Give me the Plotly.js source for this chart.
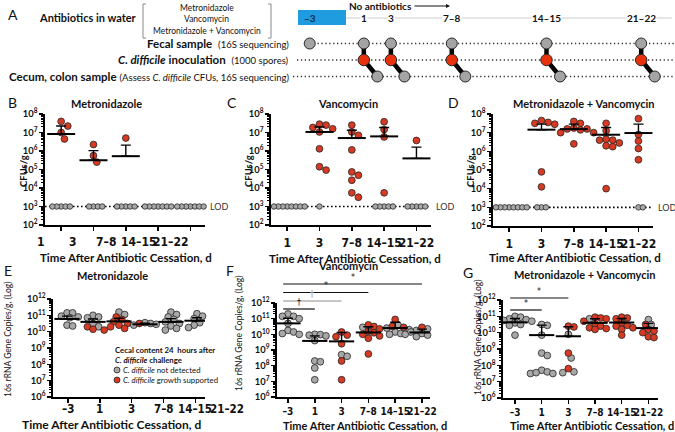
<!DOCTYPE html>
<html>
<head>
<meta charset="utf-8">
<script src="https://cdn.plot.ly/plotly-3.0.1.min.js"></script>
<style>
  body { margin: 0; background: white; }
  #chart { width: 675px; height: 432px; }
</style>
</head>
<body>
<div id="chart"></div>
<script>
// ---------- data (log10 values) ----------
const cfuDays = ['1', '3', '7–8', '14–15', '21–22'];
const rnaDays = ['–3', '1', '3', '7–8', '14–15', '21–22'];
const schedDayNum = [-3, 1, 3, 7.5, 14.5, 21.5];
const lodLog = 3;

// B - metronidazole, CFUs/g
const metroCfuRed = [[7.6, 7.35, 7.0, 6.65], [6.35, 5.75, 5.4], [6.7], [], []];
const metroCfuLod = [5, 4, 5, 7, 7];
const metroCfuMean = [6.92, 5.5, 5.72, null, null];
const metroCfuTop = [7.35, 6.02, 6.32, null, null];

// C - vancomycin, CFUs/g
const vancoCfuRed = [[], [7.45, 7.4, 7.27, 7.2, 7.03, 6.12, 5.15, 4.97],
  [7.4, 7.03, 6.85, 6.06, 4.87, 4.69, 4.42, 3.74, 3.5], [7.58, 7.16, 6.76, 3.74], [6.57]];
const vancoCfuLod = [8, 1, 0, 5, 5];
const vancoCfuMean = [null, 7.03, 6.7, 6.79, 5.6];
const vancoCfuTop = [null, 7.3, 7.12, 7.27, 6.21];

// D - metronidazole + vancomycin, CFUs/g
const comboCfuRed = [[], [7.65, 7.55, 7.5, 7.45, 4.9, 4.1],
  [7.6, 7.5, 7.25, 7.2, 7.2, 7.15, 7.0, 7.0, 6.4],
  [7.5, 7.1, 6.65, 6.6, 6.6, 6.45, 6.3, 6.25, 4.0], [7.75, 6.9, 6.55, 6.15, 5.55]];
const comboCfuLod = [8, 3, 0, 0, 2];
const comboCfuMean = [null, 7.16, 7.19, 6.89, 6.98];
const comboCfuTop = [null, 7.46, 7.46, 7.28, 7.46];

// E - metronidazole, 16S copies/g
const metroRnaGrey = [[11.15, 11.15, 10.95, 10.9, 10.85, 10.4, 10.35], [11.0, 10.9, 10.85, 10.5, 10.3],
  [11.2, 11.05], [10.55, 10.5, 10.45, 10.4], [11.2, 11.05, 10.9, 10.75, 10.6, 10.5, 10.35, 10.2, 10.1],
  [11.1, 10.95, 10.8, 10.55, 10.4, 10.3, 10.25]];
const metroRnaRed = [[], [10.3, 10.15, 10.1], [10.9, 10.75, 10.6, 10.5, 10.4, 10.3, 10.2], [10.5], [], []];
const metroRnaMean = [10.78, 10.6, 10.63, 10.45, 10.6, 10.67];
const metroRnaTop = [10.95, 10.78, 10.82, 10.52, 10.8, 10.85];

// F - vancomycin, 16S copies/g
const vancoRnaGrey = [[11.3, 11.15, 11.15, 11.0, 10.95, 10.7, 10.25, 10.15, 10.05, 10.0],
  [10.0, 9.98, 9.95, 9.9, 9.6, 8.3, 8.25, 7.85, 7.1], [8.7, 8.6], [10.45],
  [10.6, 10.4, 10.3, 10.15, 10.05, 10.0], [10.35, 10.25, 10.2, 10.15, 10.1, 10.05, 10.0, 9.95, 9.9, 9.85]];
const vancoRnaRed = [[], [], [10.15, 9.95, 9.85, 9.4, 8.3, 7.1],
  [10.6, 10.5, 10.35, 10.2, 10.1, 10.0, 9.9, 9.75, 8.75], [10.95, 10.5, 10.45], [10.45]];
const vancoRnaMean = [10.7, 9.58, 9.55, 10.12, 10.4, 10.12];
const vancoRnaTop = [11.03, 9.9, 10.12, 10.48, 10.77, 10.33];
const vancoSigTo = [1, 2, 3, 5];
const vancoSigMark = ['†', '†', '*', '*'];

// G - metronidazole + vancomycin, 16S copies/g
const comboRnaGrey = [[11.0, 10.95, 10.85, 10.8, 10.75, 10.7, 10.6, 10.5, 10.45, 9.85],
  [10.5, 10.45, 9.85, 8.75, 8.6, 7.7, 7.6, 7.5, 7.5, 7.55], [9.9, 8.45, 7.55, 7.6], [10.85], [], [10.8, 10.5]];
const comboRnaRed = [[], [], [10.4, 10.35, 8.75, 7.8],
  [10.95, 10.9, 10.85, 10.7, 10.55, 10.4, 10.3, 10.25, 10.2],
  [10.95, 10.9, 10.85, 10.6, 10.45, 10.4, 10.3, 10.2, 9.85], [10.5, 10.2, 10.1, 10.0, 9.9, 9.75, 9.7]];
const comboRnaMean = [10.63, 9.85, 9.78, 10.6, 10.62, 10.28];
const comboRnaTop = [10.87, 10.46, 10.36, 10.85, 10.87, 10.57];
const comboSigTo = [1, 2];
const comboSigMark = ['*', '*'];

// ---------- layout helpers ----------
const W = 675, H = 432;
const FONT = 'Lato, "Open Sans", sans-serif';
const NARROW = '"Liberation Sans Narrow", "DejaVu Sans Condensed", Lato, sans-serif';
const RED = '#d63a22', GREY = '#a8a8a8', EDGE = '#262626';
const fx = p => p / W;
const fy = p => 1 - p / H;

const panels = {
  B: {ax: '',  x: [45, 205],  y: [114, 225], xr: [-0.5, 4.45],  yr: [2, 8]},
  C: {ax: '2', x: [271, 431], y: [114, 225], xr: [-0.5, 4.45],  yr: [2, 8]},
  D: {ax: '3', x: [493, 653], y: [114, 226], xr: [-0.5, 4.45],  yr: [2, 8]},
  E: {ax: '4', x: [53, 205],  y: [299, 397], xr: [-0.54, 5.31], yr: [6, 12]},
  F: {ax: '5', x: [277, 430], y: [303, 397], xr: [-0.41, 5.3],  yr: [6, 12]},
  G: {ax: '6', x: [503, 658], y: [300, 398], xr: [-0.45, 5.36], yr: [6, 12]}
};
const pxCat = p => (p.x[1] - p.x[0]) / (p.xr[1] - p.xr[0]);
const pxDec = p => (p.y[1] - p.y[0]) / (p.yr[1] - p.yr[0]);
const catPaper = (p, v) => fx(p.x[0] + (v - p.xr[0]) * pxCat(p));

const traces = [];
const ann = [];
const shp = [];

function txt(text, x, y, size, o) {
  ann.push(Object.assign({text: text, x: fx(x), y: fy(y), xref: 'paper', yref: 'paper',
    showarrow: false, xanchor: 'center', yanchor: 'middle',
    font: {size: size, color: '#111', family: FONT}}, o || {}));
}

// simple beeswarm: spread points sideways so markers don't sit on each other
function swarm(vals, p, gap) {
  const cx = pxCat(p), cy = pxDec(p);
  const order = vals.map((v, i) => i).sort((a, b) => vals[b] - vals[a]);
  const placed = [], offs = [];
  order.forEach(i => {
    const yy = vals[i] * cy;
    let off = 0;
    for (let k = 0; k < 80; k++) {
      off = (k % 2 ? 1 : -1) * Math.ceil(k / 2) * gap / 2;
      if (placed.every(q => (q[0] - off) ** 2 + (q[1] - yy) ** 2 >= gap * gap * 0.97)) break;
    }
    placed.push([off, yy]);
    offs[i] = off / cx;
  });
  return offs;
}

function pointTrace(p, xs, ys, color, size) {
  traces.push({type: 'scatter', mode: 'markers', x: xs, y: ys,
    xaxis: 'x' + p.ax, yaxis: 'y' + p.ax, hoverinfo: 'skip', cliponaxis: false,
    marker: {size: size, color: color, line: {color: EDGE, width: 0.8}}});
}

// grey and red points of a group are swarmed together
function addGroups(p, grey, red, gap, size) {
  const g = {x: [], y: []}, r = {x: [], y: []};
  grey.forEach((gv, i) => {
    const all = gv.concat(red[i]);
    const offs = swarm(all, p, gap);
    all.forEach((v, j) => {
      const t = j < gv.length ? g : r;
      t.x.push(i + offs[j]);
      t.y.push(Math.pow(10, v));
    });
  });
  pointTrace(p, g.x, g.y, GREY, size);
  pointTrace(p, r.x, r.y, RED, size);
}

// mean bar with an upward SEM whisker
function addMean(p, means, tops, size) {
  const xs = [], ys = [], err = [];
  means.forEach((m, i) => {
    if (m === null) return;
    xs.push(i);
    ys.push(Math.pow(10, m));
    err.push(Math.pow(10, tops[i]) - Math.pow(10, m));
  });
  traces.push({type: 'scatter', mode: 'markers', x: xs, y: ys,
    xaxis: 'x' + p.ax, yaxis: 'y' + p.ax, hoverinfo: 'skip',
    marker: {symbol: 'line-ew', size: size, color: 'black', line: {width: 2, color: 'black'}},
    error_y: {type: 'data', array: err, arrayminus: err.map(() => 0), symmetric: false,
      color: 'black', thickness: 1.4, width: 5}});
}

function cfuPanel(p, red, lodN, means, tops) {
  traces.push({type: 'scatter', mode: 'lines', x: p.xr, y: [Math.pow(10, lodLog), Math.pow(10, lodLog)],
    xaxis: 'x' + p.ax, yaxis: 'y' + p.ax, hoverinfo: 'skip',
    line: {color: 'black', width: 1.6, dash: '1.6px,2.4px'}});
  const lx = [], ly = [];
  lodN.forEach((n, i) => {
    const vals = new Array(n).fill(lodLog);
    swarm(vals, p, 4.4).forEach(o => { lx.push(i + o); ly.push(Math.pow(10, lodLog)); });
  });
  pointTrace(p, lx, ly, GREY, 5.5);
  const rx = [], ry = [];
  red.forEach((vals, i) => {
    swarm(vals, p, 6.6).forEach((o, j) => { rx.push(i + o); ry.push(Math.pow(10, vals[j])); });
  });
  pointTrace(p, rx, ry, RED, 6.8);
  addMean(p, means, tops, 20);
  ann.push({text: 'LOD', x: fx(p.x[1] + 3), y: lodLog, xref: 'paper', yref: 'y' + p.ax,
    showarrow: false, xanchor: 'left', yanchor: 'middle', font: {size: 9, color: '#333', family: FONT}});
}

function sigBars(p, to, marks, yPx) {
  to.forEach((j, k) => {
    const col = (p === panels.F && k === 1) ? '#8c8c8c' : '#111';
    shp.push({type: 'line', xref: 'x' + p.ax, yref: 'paper', x0: -0.18, x1: j, y0: fy(yPx[k]), y1: fy(yPx[k]),
      line: {color: col, width: 1.2}});
    ann.push({text: marks[k], x: catPaper(p, (j - 0.18) / 2), y: fy(yPx[k] - 0.5), xref: 'paper', yref: 'paper',
      showarrow: false, xanchor: 'center', yanchor: 'bottom',
      font: {size: 8, color: col, family: '"DejaVu Sans", sans-serif'}});
  });
}

// ---------- panels B-G ----------
cfuPanel(panels.B, metroCfuRed, metroCfuLod, metroCfuMean, metroCfuTop);
cfuPanel(panels.C, vancoCfuRed, vancoCfuLod, vancoCfuMean, vancoCfuTop);
cfuPanel(panels.D, comboCfuRed, comboCfuLod, comboCfuMean, comboCfuTop);

addGroups(panels.E, metroRnaGrey, metroRnaRed, 5.6, 6.8);
addMean(panels.E, metroRnaMean, metroRnaTop, 18);
addGroups(panels.F, vancoRnaGrey, vancoRnaRed, 5.6, 6.8);
addMean(panels.F, vancoRnaMean, vancoRnaTop, 18);
addGroups(panels.G, comboRnaGrey, comboRnaRed, 5.6, 6.8);
addMean(panels.G, comboRnaMean, comboRnaTop, 18);

sigBars(panels.F, vancoSigTo, vancoSigMark, [309, 301, 292.5, 284]);
sigBars(panels.G, comboSigTo, comboSigMark, [310, 298]);

const layout = {
  width: W, height: H, margin: {l: 0, r: 0, t: 0, b: 0},
  showlegend: false, paper_bgcolor: 'white', plot_bgcolor: 'rgba(0,0,0,0)',
  font: {family: FONT, color: '#111'},
  annotations: ann, shapes: shp
};

Object.keys(panels).forEach(k => {
  const p = panels[k];
  const rna = p.yr[0] === 6;
  const nCat = rna ? rnaDays.length : cfuDays.length;
  const xa = {
    domain: [fx(p.x[0]), fx(p.x[1])], range: p.xr, anchor: 'y' + p.ax,
    showgrid: false, zeroline: false, showline: true, linecolor: 'black', linewidth: 1.5,
    ticks: 'outside', ticklen: 4, tickwidth: 1.5, tickcolor: 'black', tickangle: 0,
    tickmode: 'array', tickvals: [...Array(nCat).keys()], ticktext: rna ? rnaDays : cfuDays,
    tickfont: {size: rna ? 10 : 12, weight: 700, color: '#111', family: NARROW},
    ticklabelstandoff: rna ? 0 : 2, fixedrange: true
  };
  if (k === 'B') xa.showticklabels = false;
  if (k === 'E') {
    xa.showticklabels = false;
    xa.tickvals = [0, 1, 2, 3, 4].map(i => 0.04 + 1.225 * i);
  }
  layout['xaxis' + p.ax] = xa;
  layout['yaxis' + p.ax] = {
    domain: [fy(p.y[1]), fy(p.y[0])], type: 'log', range: p.yr, anchor: 'x' + p.ax,
    showgrid: false, zeroline: false, showline: true, linecolor: 'black', linewidth: 2,
    ticks: 'outside', ticklen: 4, tickwidth: 1.5, tickcolor: 'black',
    tick0: 0, dtick: 1, exponentformat: 'power',
    minor: {dtick: 'D1', ticks: 'outside', ticklen: 2, tickwidth: 1, tickcolor: 'black'},
    tickfont: {size: 7.5, weight: 700, color: '#111'}, fixedrange: true
  };
});

// shifted category labels in B and E
cfuDays.forEach((d, i) => txt('<b>' + d + '</b>', catPaper(panels.B, i - 0.62) * W, 242, 12,
  {font: {size: 12, color: '#111', family: NARROW}}));
rnaDays.forEach((d, i) => txt('<b>' + d + '</b>', catPaper(panels.E, 0.04 + 1.225 * i) * W, 409, 11.5,
  {font: {size: 11.5, color: '#111', family: NARROW}}));

// titles, axis titles, letters
const xTitle = '<b>Time After Antibiotic Cessation, d</b>';
txt(xTitle, 126, 257, 11.5); txt(xTitle, 355, 258, 11.5); txt(xTitle, 575, 257, 11.5);
txt(xTitle, 111, 424, 12);   txt(xTitle, 365, 425, 11); txt(xTitle, 592, 425, 11);
txt('<b>Metronidazole</b>', 106, 103, 11);
txt('<b>Vancomycin</b>', 348, 103, 11);
txt('<b>Metronidazole + Vancomycin</b>', 584, 103, 11);
txt('<b>Metronidazole</b>', 112, 275, 11);
txt('<b>Vancomycin</b>', 348, 265, 11);
txt('<b>Metronidazole + Vancomycin</b>', 585, 274, 11);
txt('<b>CFUs/g</b>', 24, 171, 9.5, {textangle: -90});
txt('<b>CFUs/g</b>', 249, 171, 9.5, {textangle: -90});
txt('<b>CFUs/g</b>', 471, 171, 9.5, {textangle: -90});
const rnaTitle = '16s rRNA Gene Copies/g, (Log)';
txt(rnaTitle, 8, 340, 8.5, {textangle: -90});
txt(rnaTitle, 239, 334, 8.5, {textangle: -90});
txt(rnaTitle, 478, 338, 8.5, {textangle: -90});
[['A', 13, 15], ['B', 12, 102], ['C', 232, 102], ['D', 453, 102],
 ['E', 8, 270], ['F', 230, 270], ['G', 468, 272]].forEach(l => txt(l[0], l[1], l[2], 14));

// legend in E
txt('<b>Cecal content 24  hours after</b>', 113, 350, 7.8, {xanchor: 'left'});
txt('<b><i>C. difficile</i> challenge</b>', 113, 360, 7.8, {xanchor: 'left'});
txt('<i>C. difficile</i> not detected', 121, 370, 7.8, {xanchor: 'left'});
txt('<i>C. difficile</i> growth supported', 121, 380, 7.8, {xanchor: 'left'});
[[370, GREY], [380, RED]].forEach(c => shp.push({type: 'circle', xref: 'paper', yref: 'paper',
  x0: fx(114), x1: fx(120), y0: fy(c[0] + 3), y1: fy(c[0] - 3), fillcolor: c[1], line: {color: EDGE, width: 0.8}}));

// ---------- panel A: sampling schedule ----------
const dayPx = 13.53, dayZero = 350.3;          // day -> pixel
const rowPx = 16.5, rowZero = 43.5;            // row -> pixel
layout.xaxis7 = {domain: [0, 1], range: [-dayZero / dayPx, (W - dayZero) / dayPx], anchor: 'y7', visible: false, fixedrange: true};
layout.yaxis7 = {domain: [fy(100), 1], range: [(100 - rowZero) / rowPx, -rowZero / rowPx], anchor: 'x7', visible: false, fixedrange: true};
const xEnd = (W - dayZero) / dayPx;
const chall = schedDayNum.slice(1);

[[-3, 0], [(297 - dayZero) / dayPx, 1], [(293 - dayZero) / dayPx, 2]].forEach(r => traces.push({
  type: 'scatter', mode: 'lines', x: [r[0], xEnd], y: [r[1], r[1]], xaxis: 'x7', yaxis: 'y7', hoverinfo: 'skip',
  line: {color: '#333', width: 1.3, dash: '1.3px,2.6px'}}));
const cx = [], cy = [];
chall.forEach(d => { cx.push(d, d, d + 1, null); cy.push(0, 1, 2, null); });
traces.push({type: 'scatter', mode: 'lines', x: cx, y: cy, xaxis: 'x7', yaxis: 'y7', hoverinfo: 'skip',
  line: {color: 'black', width: 4.5}});
traces.push({type: 'scatter', mode: 'markers', x: schedDayNum, y: schedDayNum.map(() => 0), xaxis: 'x7', yaxis: 'y7',
  hoverinfo: 'skip', marker: {size: 11, color: '#a4a4a4', line: {color: EDGE, width: 1}}});
traces.push({type: 'scatter', mode: 'markers', x: chall, y: chall.map(() => 1), xaxis: 'x7', yaxis: 'y7',
  hoverinfo: 'skip', marker: {size: 11.5, color: '#e8320e', line: {color: EDGE, width: 1}}});
traces.push({type: 'scatter', mode: 'markers', x: chall.map(d => d + 1), y: chall.map(() => 2), xaxis: 'x7', yaxis: 'y7',
  hoverinfo: 'skip', marker: {size: 11, color: '#a4a4a4', line: {color: EDGE, width: 1}}});

shp.push({type: 'line', xref: 'paper', yref: 'paper', x0: fx(346), x1: fx(672), y0: fy(18), y1: fy(18),
  line: {color: '#dedede', width: 1.5}, layer: 'below'});
shp.push({type: 'rect', xref: 'paper', yref: 'paper', x0: fx(298), x1: fx(346), y0: fy(25), y1: fy(10),
  fillcolor: '#1f9be0', line: {width: 0}});
shp.push({type: 'path', xref: 'paper', yref: 'paper', line: {color: '#888', width: 1},
  path: `M${fx(146)},${fy(4)} L${fx(143)},${fy(4)} L${fx(143)},${fy(38)} L${fx(146)},${fy(38)}`});
shp.push({type: 'path', xref: 'paper', yref: 'paper', line: {color: '#888', width: 1},
  path: `M${fx(268)},${fy(4)} L${fx(271)},${fy(4)} L${fx(271)},${fy(38)} L${fx(268)},${fy(38)}`});

txt('<b>–3</b>', dayZero + schedDayNum[0] * dayPx, 18, 10, {font: {size: 10, color: '#0d2a4a', family: FONT}});
rnaDays.slice(1).forEach((d, i) => txt('<b>' + d + '</b>', dayZero + chall[i] * dayPx, 18, 10,
  {bgcolor: 'white', borderpad: 0}));
txt('<b>No antibiotics</b>', 347, 6, 10, {xanchor: 'left'});
ann.push({text: '', x: fx(450), y: fy(6), xref: 'paper', yref: 'paper', ax: -37, ay: 0,
  showarrow: true, arrowhead: 2, arrowsize: 0.8, arrowwidth: 1, arrowcolor: '#111'});
txt('<b>Antibiotics in water</b>', 139, 17, 11, {xanchor: 'right'});
txt('Metronidazole', 207, 8, 8.5);
txt('Vancomycin', 207, 19.5, 8.5);
txt('Metronidazole + Vancomycin', 207, 31, 8.5);
txt('<b>Fecal sample</b>  <span style="font-size:9.5px">(16S sequencing)</span>', 291, 43.5, 11.5, {xanchor: 'right'});
txt('<b><i>C. difficile</i> inoculation</b>  <span style="font-size:9.5px">(1000 spores)</span>', 291, 60, 11.5, {xanchor: 'right'});
txt('<b>Cecum, colon sample</b> <span style="font-size:9.5px">(Assess <i>C. difficile</i> CFUs, 16S sequencing)</span>',
  291, 76.5, 11.5, {xanchor: 'right'});

Plotly.newPlot('chart', traces, layout, {staticPlot: true, displayModeBar: false});
</script>
</body>
</html>
